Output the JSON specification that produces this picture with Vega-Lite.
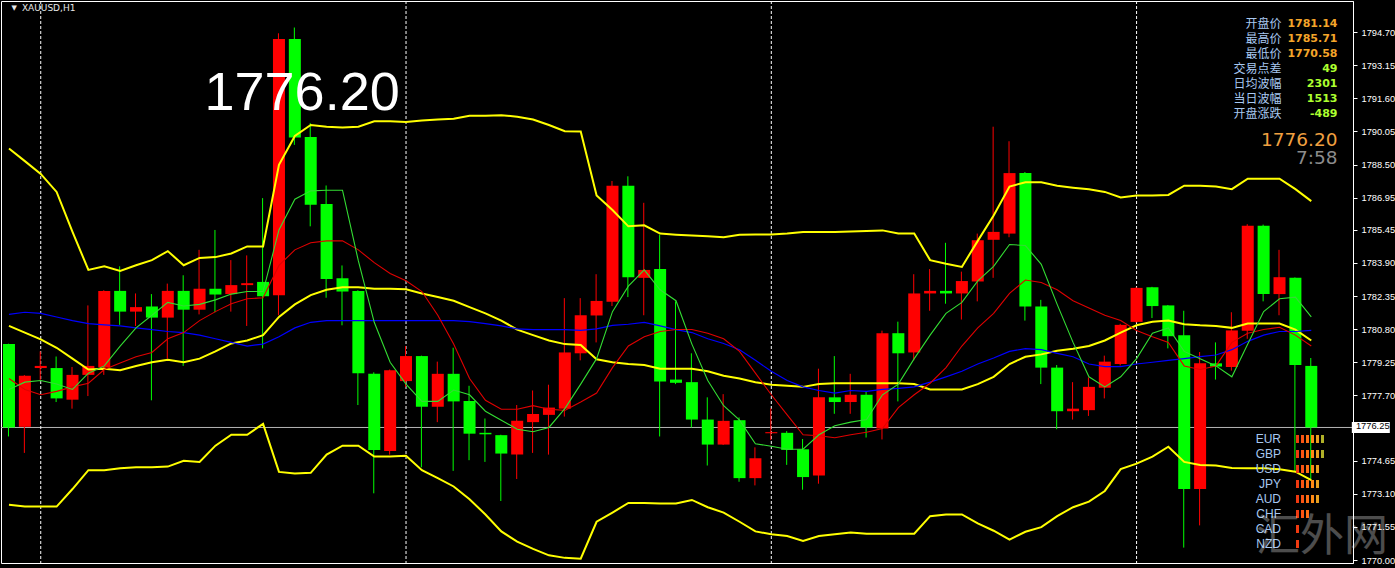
{
  "$schema": "https://vega.github.io/schema/vega-lite/v6.json",
  "width": 1352,
  "height": 562,
  "autosize": {"type": "none"},
  "padding": {"left": 1, "top": 1, "right": 42, "bottom": 5},
  "background": "#000000",
  "config": {
    "view": {"stroke": "#FFFFFF", "strokeWidth": 1},
    "axis": {"labelOverlap": false, "labelFlush": false, "grid": false, "title": null}
  },
  "datasets": {
    "bars": [
      {"k":0,"o":1780.10,"h":1780.12,"l":1775.78,"c":1776.20,"dir":"down","bb_upper":1789.25,"bb_mid":1780.95,"bb_lower":1772.59,"ma_slow":1781.49,"ma_mid":1778.49,"ma_fast":1777.98},
      {"k":1,"o":1776.23,"h":1778.65,"l":1775.01,"c":1778.62,"dir":"up","bb_upper":1788.66,"bb_mid":1780.64,"bb_lower":1772.50,"ma_slow":1781.59,"ma_mid":1777.98,"ma_fast":1778.32},
      {"k":2,"o":1778.98,"h":1779.76,"l":1778.40,"c":1779.08,"dir":"up","bb_upper":1788.06,"bb_mid":1780.32,"bb_lower":1772.50,"ma_slow":1781.54,"ma_mid":1777.73,"ma_fast":1778.40},
      {"k":3,"o":1778.98,"h":1779.52,"l":1777.39,"c":1777.56,"dir":"down","bb_upper":1787.22,"bb_mid":1779.93,"bb_lower":1772.50,"ma_slow":1781.37,"ma_mid":1777.89,"ma_fast":1778.23},
      {"k":4,"o":1777.50,"h":1779.03,"l":1777.08,"c":1778.66,"dir":"up","bb_upper":1785.35,"bb_mid":1779.42,"bb_lower":1773.32,"ma_slow":1781.20,"ma_mid":1778.10,"ma_fast":1777.98},
      {"k":5,"o":1778.66,"h":1781.91,"l":1777.67,"c":1779.08,"dir":"up","bb_upper":1783.57,"bb_mid":1778.91,"bb_lower":1774.20,"ma_slow":1781.06,"ma_mid":1778.27,"ma_fast":1778.74},
      {"k":6,"o":1779.00,"h":1782.62,"l":1778.66,"c":1782.59,"dir":"up","bb_upper":1783.74,"bb_mid":1778.95,"bb_lower":1774.20,"ma_slow":1781.00,"ma_mid":1778.91,"ma_fast":1779.08},
      {"k":7,"o":1782.59,"h":1783.74,"l":1781.00,"c":1781.62,"dir":"down","bb_upper":1783.52,"bb_mid":1778.88,"bb_lower":1774.29,"ma_slow":1780.95,"ma_mid":1779.22,"ma_fast":1780.01},
      {"k":8,"o":1781.62,"h":1782.47,"l":1780.95,"c":1781.83,"dir":"up","bb_upper":1783.79,"bb_mid":1779.08,"bb_lower":1774.34,"ma_slow":1780.86,"ma_mid":1779.51,"ma_fast":1780.86},
      {"k":9,"o":1781.86,"h":1782.44,"l":1777.47,"c":1781.34,"dir":"down","bb_upper":1784.03,"bb_mid":1779.25,"bb_lower":1774.34,"ma_slow":1780.78,"ma_mid":1779.71,"ma_fast":1781.45},
      {"k":10,"o":1781.34,"h":1782.93,"l":1779.42,"c":1782.59,"dir":"up","bb_upper":1784.45,"bb_mid":1779.37,"bb_lower":1774.37,"ma_slow":1780.69,"ma_mid":1780.35,"ma_fast":1782.05},
      {"k":11,"o":1782.59,"h":1783.32,"l":1779.08,"c":1781.71,"dir":"down","bb_upper":1783.79,"bb_mid":1779.25,"bb_lower":1774.64,"ma_slow":1780.64,"ma_mid":1780.64,"ma_fast":1781.88},
      {"k":12,"o":1781.71,"h":1784.51,"l":1781.49,"c":1782.69,"dir":"up","bb_upper":1784.13,"bb_mid":1779.42,"bb_lower":1774.59,"ma_slow":1780.52,"ma_mid":1781.20,"ma_fast":1781.96},
      {"k":13,"o":1782.69,"h":1785.44,"l":1781.59,"c":1782.42,"dir":"down","bb_upper":1784.17,"bb_mid":1779.76,"bb_lower":1775.35,"ma_slow":1780.35,"ma_mid":1781.62,"ma_fast":1782.17},
      {"k":14,"o":1782.44,"h":1784.03,"l":1781.62,"c":1782.86,"dir":"up","bb_upper":1784.34,"bb_mid":1780.13,"bb_lower":1775.86,"ma_slow":1780.18,"ma_mid":1781.99,"ma_fast":1782.44},
      {"k":15,"o":1782.86,"h":1784.25,"l":1780.95,"c":1782.95,"dir":"up","bb_upper":1784.67,"bb_mid":1780.27,"bb_lower":1775.86,"ma_slow":1780.01,"ma_mid":1782.22,"ma_fast":1782.56},
      {"k":16,"o":1783.01,"h":1786.93,"l":1779.90,"c":1782.34,"dir":"down","bb_upper":1784.67,"bb_mid":1780.52,"bb_lower":1776.37,"ma_slow":1780.10,"ma_mid":1782.27,"ma_fast":1782.56},
      {"k":17,"o":1782.39,"h":1794.64,"l":1781.45,"c":1794.37,"dir":"up","bb_upper":1788.49,"bb_mid":1781.37,"bb_lower":1774.12,"ma_slow":1780.44,"ma_mid":1783.78,"ma_fast":1785.44},
      {"k":18,"o":1794.37,"h":1794.91,"l":1789.42,"c":1789.76,"dir":"down","bb_upper":1789.84,"bb_mid":1781.96,"bb_lower":1774.05,"ma_slow":1780.86,"ma_mid":1784.51,"ma_fast":1786.88},
      {"k":19,"o":1789.79,"h":1790.44,"l":1785.61,"c":1786.62,"dir":"down","bb_upper":1790.35,"bb_mid":1782.39,"bb_lower":1774.08,"ma_slow":1781.12,"ma_mid":1784.84,"ma_fast":1787.27},
      {"k":20,"o":1786.66,"h":1787.52,"l":1782.27,"c":1783.15,"dir":"down","bb_upper":1790.27,"bb_mid":1782.64,"bb_lower":1774.93,"ma_slow":1781.20,"ma_mid":1784.93,"ma_fast":1787.30},
      {"k":21,"o":1783.18,"h":1783.78,"l":1780.98,"c":1782.56,"dir":"down","bb_upper":1790.23,"bb_mid":1782.76,"bb_lower":1775.35,"ma_slow":1781.20,"ma_mid":1784.93,"ma_fast":1787.30},
      {"k":22,"o":1782.59,"h":1782.62,"l":1777.25,"c":1778.74,"dir":"down","bb_upper":1790.27,"bb_mid":1782.76,"bb_lower":1775.35,"ma_slow":1781.20,"ma_mid":1784.51,"ma_fast":1783.99},
      {"k":23,"o":1778.71,"h":1778.78,"l":1773.12,"c":1775.15,"dir":"down","bb_upper":1790.52,"bb_mid":1782.69,"bb_lower":1774.84,"ma_slow":1781.20,"ma_mid":1783.91,"ma_fast":1781.12},
      {"k":24,"o":1775.10,"h":1778.91,"l":1774.93,"c":1778.88,"dir":"up","bb_upper":1790.52,"bb_mid":1782.69,"bb_lower":1774.84,"ma_slow":1781.20,"ma_mid":1783.40,"ma_fast":1779.25},
      {"k":25,"o":1778.37,"h":1780.01,"l":1778.10,"c":1779.54,"dir":"up","bb_upper":1790.49,"bb_mid":1782.67,"bb_lower":1774.88,"ma_slow":1781.20,"ma_mid":1783.06,"ma_fast":1778.23},
      {"k":26,"o":1779.54,"h":1779.56,"l":1774.34,"c":1777.17,"dir":"down","bb_upper":1790.56,"bb_mid":1782.47,"bb_lower":1774.20,"ma_slow":1781.20,"ma_mid":1782.56,"ma_fast":1777.42},
      {"k":27,"o":1777.17,"h":1779.28,"l":1776.45,"c":1778.71,"dir":"up","bb_upper":1790.61,"bb_mid":1782.30,"bb_lower":1773.83,"ma_slow":1781.20,"ma_mid":1781.45,"ma_fast":1777.42},
      {"k":28,"o":1778.71,"h":1779.93,"l":1774.17,"c":1777.42,"dir":"down","bb_upper":1790.64,"bb_mid":1782.13,"bb_lower":1773.44,"ma_slow":1781.20,"ma_mid":1780.10,"ma_fast":1777.95},
      {"k":29,"o":1777.44,"h":1778.15,"l":1774.67,"c":1775.91,"dir":"down","bb_upper":1790.78,"bb_mid":1781.83,"bb_lower":1772.84,"ma_slow":1781.15,"ma_mid":1778.49,"ma_fast":1777.73},
      {"k":30,"o":1775.95,"h":1776.62,"l":1774.59,"c":1775.88,"dir":"down","bb_upper":1790.78,"bb_mid":1781.54,"bb_lower":1772.13,"ma_slow":1781.06,"ma_mid":1777.47,"ma_fast":1776.96},
      {"k":31,"o":1775.84,"h":1775.86,"l":1772.76,"c":1774.98,"dir":"down","bb_upper":1790.81,"bb_mid":1781.20,"bb_lower":1771.34,"ma_slow":1780.95,"ma_mid":1777.05,"ma_fast":1776.54},
      {"k":32,"o":1774.93,"h":1777.25,"l":1773.79,"c":1776.51,"dir":"up","bb_upper":1790.74,"bb_mid":1780.78,"bb_lower":1770.86,"ma_slow":1780.81,"ma_mid":1777.05,"ma_fast":1776.12},
      {"k":33,"o":1776.45,"h":1777.93,"l":1775.01,"c":1776.83,"dir":"up","bb_upper":1790.61,"bb_mid":1780.52,"bb_lower":1770.52,"ma_slow":1780.78,"ma_mid":1777.22,"ma_fast":1776.00},
      {"k":34,"o":1776.79,"h":1778.20,"l":1774.93,"c":1777.13,"dir":"up","bb_upper":1790.35,"bb_mid":1780.27,"bb_lower":1770.22,"ma_slow":1780.78,"ma_mid":1777.05,"ma_fast":1776.20},
      {"k":35,"o":1777.08,"h":1782.25,"l":1776.71,"c":1779.71,"dir":"up","bb_upper":1790.06,"bb_mid":1780.10,"bb_lower":1770.10,"ma_slow":1780.78,"ma_mid":1777.00,"ma_fast":1777.08},
      {"k":36,"o":1779.67,"h":1782.25,"l":1779.34,"c":1781.45,"dir":"up","bb_upper":1790.05,"bb_mid":1780.06,"bb_lower":1770.06,"ma_slow":1780.74,"ma_mid":1777.39,"ma_fast":1778.23},
      {"k":37,"o":1781.44,"h":1783.37,"l":1780.18,"c":1782.12,"dir":"up","bb_upper":1787.05,"bb_mid":1779.39,"bb_lower":1771.79,"ma_slow":1780.81,"ma_mid":1777.81,"ma_fast":1779.42},
      {"k":38,"o":1782.08,"h":1787.73,"l":1781.88,"c":1787.51,"dir":"up","bb_upper":1786.37,"bb_mid":1779.25,"bb_lower":1772.22,"ma_slow":1780.98,"ma_mid":1779.00,"ma_fast":1781.62},
      {"k":39,"o":1787.51,"h":1787.95,"l":1782.30,"c":1783.23,"dir":"down","bb_upper":1785.61,"bb_mid":1779.17,"bb_lower":1772.67,"ma_slow":1781.03,"ma_mid":1780.01,"ma_fast":1782.81},
      {"k":40,"o":1783.20,"h":1786.71,"l":1781.45,"c":1783.57,"dir":"up","bb_upper":1785.66,"bb_mid":1779.12,"bb_lower":1772.67,"ma_slow":1781.12,"ma_mid":1780.44,"ma_fast":1783.57},
      {"k":41,"o":1783.61,"h":1785.22,"l":1775.78,"c":1778.35,"dir":"down","bb_upper":1785.27,"bb_mid":1778.95,"bb_lower":1772.64,"ma_slow":1780.95,"ma_mid":1780.69,"ma_fast":1782.64},
      {"k":42,"o":1778.44,"h":1782.10,"l":1778.23,"c":1778.29,"dir":"down","bb_upper":1785.22,"bb_mid":1778.95,"bb_lower":1772.64,"ma_slow":1780.78,"ma_mid":1780.78,"ma_fast":1782.13},
      {"k":43,"o":1778.32,"h":1779.67,"l":1776.20,"c":1776.57,"dir":"down","bb_upper":1785.18,"bb_mid":1778.95,"bb_lower":1772.81,"ma_slow":1780.64,"ma_mid":1780.78,"ma_fast":1780.10},
      {"k":44,"o":1776.57,"h":1777.61,"l":1774.42,"c":1775.40,"dir":"down","bb_upper":1785.15,"bb_mid":1778.83,"bb_lower":1772.47,"ma_slow":1780.35,"ma_mid":1780.61,"ma_fast":1778.40},
      {"k":45,"o":1775.40,"h":1777.76,"l":1775.38,"c":1776.51,"dir":"up","bb_upper":1785.10,"bb_mid":1778.62,"bb_lower":1772.22,"ma_slow":1780.13,"ma_mid":1780.35,"ma_fast":1777.22},
      {"k":46,"o":1776.54,"h":1776.67,"l":1773.66,"c":1773.83,"dir":"down","bb_upper":1785.22,"bb_mid":1778.49,"bb_lower":1771.79,"ma_slow":1779.84,"ma_mid":1779.76,"ma_fast":1776.54},
      {"k":47,"o":1773.83,"h":1775.27,"l":1773.49,"c":1774.76,"dir":"up","bb_upper":1785.23,"bb_mid":1778.32,"bb_lower":1771.34,"ma_slow":1779.34,"ma_mid":1778.74,"ma_fast":1775.44},
      {"k":48,"o":1775.93,"h":1777.10,"l":1775.61,"c":1775.98,"dir":"up","bb_upper":1785.23,"bb_mid":1778.20,"bb_lower":1771.20,"ma_slow":1778.83,"ma_mid":1777.73,"ma_fast":1775.32},
      {"k":49,"o":1775.95,"h":1776.03,"l":1774.45,"c":1775.15,"dir":"down","bb_upper":1785.27,"bb_mid":1778.15,"bb_lower":1771.12,"ma_slow":1778.40,"ma_mid":1776.79,"ma_fast":1775.18},
      {"k":50,"o":1775.18,"h":1775.66,"l":1773.29,"c":1773.88,"dir":"down","bb_upper":1785.35,"bb_mid":1778.10,"bb_lower":1770.89,"ma_slow":1778.10,"ma_mid":1775.86,"ma_fast":1775.18},
      {"k":51,"o":1773.95,"h":1778.95,"l":1773.57,"c":1777.61,"dir":"up","bb_upper":1785.35,"bb_mid":1778.23,"bb_lower":1771.12,"ma_slow":1777.93,"ma_mid":1775.81,"ma_fast":1775.86},
      {"k":52,"o":1777.61,"h":1779.54,"l":1776.84,"c":1777.39,"dir":"down","bb_upper":1785.35,"bb_mid":1778.27,"bb_lower":1771.20,"ma_slow":1777.81,"ma_mid":1775.72,"ma_fast":1776.28},
      {"k":53,"o":1777.39,"h":1778.71,"l":1776.84,"c":1777.73,"dir":"up","bb_upper":1785.37,"bb_mid":1778.27,"bb_lower":1771.29,"ma_slow":1777.93,"ma_mid":1775.86,"ma_fast":1776.45},
      {"k":54,"o":1777.73,"h":1777.90,"l":1775.73,"c":1776.20,"dir":"down","bb_upper":1785.39,"bb_mid":1778.27,"bb_lower":1771.23,"ma_slow":1777.89,"ma_mid":1775.98,"ma_fast":1776.57},
      {"k":55,"o":1776.15,"h":1780.73,"l":1775.64,"c":1780.61,"dir":"up","bb_upper":1785.42,"bb_mid":1778.27,"bb_lower":1771.23,"ma_slow":1777.98,"ma_mid":1776.15,"ma_fast":1777.73},
      {"k":56,"o":1780.61,"h":1781.15,"l":1777.42,"c":1779.67,"dir":"down","bb_upper":1785.27,"bb_mid":1778.27,"bb_lower":1771.23,"ma_slow":1778.03,"ma_mid":1777.13,"ma_fast":1778.23},
      {"k":57,"o":1779.71,"h":1783.37,"l":1779.34,"c":1782.47,"dir":"up","bb_upper":1785.27,"bb_mid":1778.23,"bb_lower":1771.23,"ma_slow":1778.10,"ma_mid":1777.73,"ma_fast":1779.42},
      {"k":58,"o":1782.47,"h":1783.61,"l":1781.66,"c":1782.59,"dir":"up","bb_upper":1784.03,"bb_mid":1777.98,"bb_lower":1772.05,"ma_slow":1778.32,"ma_mid":1778.27,"ma_fast":1780.52},
      {"k":59,"o":1782.59,"h":1784.84,"l":1781.99,"c":1782.47,"dir":"down","bb_upper":1783.86,"bb_mid":1777.98,"bb_lower":1772.13,"ma_slow":1778.57,"ma_mid":1779.00,"ma_fast":1781.54},
      {"k":60,"o":1782.47,"h":1783.49,"l":1781.25,"c":1783.05,"dir":"up","bb_upper":1783.71,"bb_mid":1777.98,"bb_lower":1772.13,"ma_slow":1778.83,"ma_mid":1780.01,"ma_fast":1782.05},
      {"k":61,"o":1783.03,"h":1785.27,"l":1782.10,"c":1784.96,"dir":"up","bb_upper":1784.93,"bb_mid":1778.23,"bb_lower":1771.71,"ma_slow":1779.17,"ma_mid":1780.86,"ma_fast":1783.06},
      {"k":62,"o":1784.98,"h":1790.27,"l":1783.20,"c":1785.35,"dir":"up","bb_upper":1786.12,"bb_mid":1778.57,"bb_lower":1771.37,"ma_slow":1779.45,"ma_mid":1781.54,"ma_fast":1783.74},
      {"k":63,"o":1785.27,"h":1789.59,"l":1785.10,"c":1788.10,"dir":"up","bb_upper":1787.47,"bb_mid":1779.17,"bb_lower":1770.95,"ma_slow":1779.76,"ma_mid":1782.47,"ma_fast":1784.76},
      {"k":64,"o":1788.10,"h":1788.15,"l":1781.20,"c":1781.86,"dir":"down","bb_upper":1787.67,"bb_mid":1779.51,"bb_lower":1771.32,"ma_slow":1779.89,"ma_mid":1783.10,"ma_fast":1784.71},
      {"k":65,"o":1781.86,"h":1782.17,"l":1778.23,"c":1779.00,"dir":"down","bb_upper":1787.67,"bb_mid":1779.62,"bb_lower":1771.54,"ma_slow":1779.84,"ma_mid":1782.98,"ma_fast":1783.83},
      {"k":66,"o":1779.00,"h":1779.12,"l":1776.12,"c":1776.96,"dir":"down","bb_upper":1787.51,"bb_mid":1779.79,"bb_lower":1772.05,"ma_slow":1779.67,"ma_mid":1782.64,"ma_fast":1781.96},
      {"k":67,"o":1776.96,"h":1778.32,"l":1776.57,"c":1777.08,"dir":"up","bb_upper":1787.42,"bb_mid":1779.88,"bb_lower":1772.47,"ma_slow":1779.51,"ma_mid":1782.13,"ma_fast":1780.18},
      {"k":68,"o":1777.01,"h":1778.54,"l":1776.74,"c":1778.10,"dir":"up","bb_upper":1787.34,"bb_mid":1780.01,"bb_lower":1772.73,"ma_slow":1779.17,"ma_mid":1781.79,"ma_fast":1778.57},
      {"k":69,"o":1778.06,"h":1779.56,"l":1777.56,"c":1779.28,"dir":"up","bb_upper":1787.22,"bb_mid":1780.27,"bb_lower":1773.23,"ma_slow":1779.05,"ma_mid":1781.45,"ma_fast":1778.10},
      {"k":70,"o":1779.17,"h":1781.05,"l":1779.10,"c":1781.00,"dir":"up","bb_upper":1786.96,"bb_mid":1780.64,"bb_lower":1774.25,"ma_slow":1779.05,"ma_mid":1781.20,"ma_fast":1778.57},
      {"k":71,"o":1781.14,"h":1782.76,"l":1781.10,"c":1782.73,"dir":"up","bb_upper":1787.05,"bb_mid":1780.98,"bb_lower":1774.51,"ma_slow":1779.17,"ma_mid":1780.74,"ma_fast":1779.42},
      {"k":72,"o":1782.76,"h":1782.78,"l":1781.32,"c":1781.88,"dir":"down","bb_upper":1787.05,"bb_mid":1781.15,"bb_lower":1774.84,"ma_slow":1779.25,"ma_mid":1780.44,"ma_fast":1780.61},
      {"k":73,"o":1781.91,"h":1781.93,"l":1779.90,"c":1780.47,"dir":"down","bb_upper":1787.08,"bb_mid":1781.20,"bb_lower":1775.30,"ma_slow":1779.34,"ma_mid":1780.18,"ma_fast":1780.86},
      {"k":74,"o":1780.52,"h":1781.66,"l":1770.58,"c":1773.32,"dir":"down","bb_upper":1787.51,"bb_mid":1781.03,"bb_lower":1774.59,"ma_slow":1779.42,"ma_mid":1779.08,"ma_fast":1779.76},
      {"k":75,"o":1773.32,"h":1779.73,"l":1771.62,"c":1779.20,"dir":"up","bb_upper":1787.51,"bb_mid":1780.98,"bb_lower":1774.45,"ma_slow":1779.51,"ma_mid":1778.91,"ma_fast":1779.42},
      {"k":76,"o":1779.20,"h":1780.18,"l":1778.44,"c":1779.05,"dir":"down","bb_upper":1787.47,"bb_mid":1780.95,"bb_lower":1774.42,"ma_slow":1779.59,"ma_mid":1779.08,"ma_fast":1779.08},
      {"k":77,"o":1779.03,"h":1781.59,"l":1778.86,"c":1780.74,"dir":"up","bb_upper":1787.35,"bb_mid":1780.86,"bb_lower":1774.30,"ma_slow":1779.84,"ma_mid":1780.18,"ma_fast":1778.57},
      {"k":78,"o":1780.73,"h":1785.71,"l":1780.35,"c":1785.64,"dir":"up","bb_upper":1787.84,"bb_mid":1781.06,"bb_lower":1774.29,"ma_slow":1780.23,"ma_mid":1780.61,"ma_fast":1780.10},
      {"k":79,"o":1785.64,"h":1785.69,"l":1782.10,"c":1782.44,"dir":"down","bb_upper":1787.84,"bb_mid":1781.06,"bb_lower":1774.29,"ma_slow":1780.52,"ma_mid":1780.78,"ma_fast":1781.62},
      {"k":80,"o":1782.44,"h":1784.51,"l":1781.45,"c":1783.23,"dir":"up","bb_upper":1787.84,"bb_mid":1781.06,"bb_lower":1774.25,"ma_slow":1780.69,"ma_mid":1780.89,"ma_fast":1782.22},
      {"k":81,"o":1783.20,"h":1783.22,"l":1774.13,"c":1779.12,"dir":"down","bb_upper":1787.35,"bb_mid":1780.78,"bb_lower":1774.13,"ma_slow":1780.69,"ma_mid":1780.52,"ma_fast":1782.30},
      {"k":82,"o":1779.08,"h":1779.45,"l":1773.74,"c":1776.20,"dir":"down","bb_upper":1786.79,"bb_mid":1780.27,"bb_lower":1773.74,"ma_slow":1780.74,"ma_mid":1780.01,"ma_fast":1781.37}
    ],
    "days": [{"k": 2}, {"k": 25}, {"k": 48}, {"k": 71}],
    "quote": [{"symbol": "XAUUSD,H1", "bid": 1776.20, "scale_mark": 1776.25, "timer": "7:58"}],
    "info": [
      {"row": 0, "label": "开盘价", "value": "1781.14", "kind": "price"},
      {"row": 1, "label": "最高价", "value": "1785.71", "kind": "price"},
      {"row": 2, "label": "最低价", "value": "1770.58", "kind": "price"},
      {"row": 3, "label": "交易点差", "value": "49", "kind": "points"},
      {"row": 4, "label": "日均波幅", "value": "2301", "kind": "points"},
      {"row": 5, "label": "当日波幅", "value": "1513", "kind": "points"},
      {"row": 6, "label": "开盘涨跌", "value": "-489", "kind": "points"}
    ],
    "currencies": [
      {"row": 0, "cur": "EUR"}, {"row": 1, "cur": "GBP"}, {"row": 2, "cur": "USD"}, {"row": 3, "cur": "JPY"},
      {"row": 4, "cur": "AUD"}, {"row": 5, "cur": "CHF"}, {"row": 6, "cur": "CAD"}, {"row": 7, "cur": "NZD"}
    ],
    "strength": [
      {"cur": "EUR", "row": 0, "step": 1}, {"cur": "EUR", "row": 0, "step": 2}, {"cur": "EUR", "row": 0, "step": 3},
      {"cur": "EUR", "row": 0, "step": 4}, {"cur": "EUR", "row": 0, "step": 5}, {"cur": "EUR", "row": 0, "step": 6},
      {"cur": "GBP", "row": 1, "step": 1}, {"cur": "GBP", "row": 1, "step": 2}, {"cur": "GBP", "row": 1, "step": 3},
      {"cur": "GBP", "row": 1, "step": 4}, {"cur": "GBP", "row": 1, "step": 5}, {"cur": "GBP", "row": 1, "step": 6},
      {"cur": "USD", "row": 2, "step": 1}, {"cur": "USD", "row": 2, "step": 2}, {"cur": "USD", "row": 2, "step": 3},
      {"cur": "USD", "row": 2, "step": 4}, {"cur": "USD", "row": 2, "step": 5},
      {"cur": "JPY", "row": 3, "step": 1}, {"cur": "JPY", "row": 3, "step": 2}, {"cur": "JPY", "row": 3, "step": 3},
      {"cur": "JPY", "row": 3, "step": 4}, {"cur": "JPY", "row": 3, "step": 5},
      {"cur": "AUD", "row": 4, "step": 1}, {"cur": "AUD", "row": 4, "step": 2}, {"cur": "AUD", "row": 4, "step": 3},
      {"cur": "AUD", "row": 4, "step": 4}, {"cur": "AUD", "row": 4, "step": 5},
      {"cur": "CHF", "row": 5, "step": 1}, {"cur": "CHF", "row": 5, "step": 2}, {"cur": "CHF", "row": 5, "step": 3},
      {"cur": "CAD", "row": 6, "step": 1},
      {"cur": "NZD", "row": 7, "step": 1}
    ]
  },
  "layer": [
    {
      "data": {"name": "quote"},
      "mark": {"type": "rule", "stroke": "#B4B4B4", "strokeWidth": 1},
      "encoding": {
        "y": {
          "field": "bid", "type": "quantitative",
          "scale": {"domain": [1769.86, 1796.151], "nice": false, "zero": false},
          "axis": {
            "orient": "right", "title": null, "grid": false, "labelOverlap": false, "labelFlush": false,
            "values": [1770.00, 1771.55, 1773.10, 1774.65, 1777.70, 1779.25, 1780.80, 1782.35, 1783.90, 1785.45, 1786.95, 1788.50, 1790.05, 1791.60, 1793.15, 1794.70],
            "format": ".2f",
            "labelColor": "#FFFFFF", "labelFont": "Liberation Sans", "labelFontSize": 9.3, "labelPadding": 4,
            "labelBaseline": "middle", "tickColor": "#FFFFFF", "tickSize": 4, "tickWidth": 1,
            "domainColor": "#FFFFFF", "domainWidth": 1
          }
        }
      }
    },
    {
      "layer": [
        {
          "data": {"name": "days"},
          "mark": {"type": "rule", "stroke": "#FFFFFF", "strokeWidth": 1, "strokeDash": [3, 2]},
          "encoding": {
            "x": {"field": "k", "type": "quantitative", "scale": {"domain": [-0.1875, 84.3125], "nice": false, "zero": false}, "axis": null}
          }
        },
        {
          "data": {"name": "bars"},
          "mark": {"type": "rule", "strokeWidth": 1, "xOffset": -0.5, "clip": true},
          "encoding": {
            "x": {"field": "k", "type": "quantitative", "scale": {"domain": [-0.1875, 84.3125], "nice": false, "zero": false}, "axis": null},
            "y": {"field": "l", "type": "quantitative", "scale": {"domain": [1769.86, 1796.151], "nice": false, "zero": false}, "axis": null},
            "y2": {"field": "h"},
            "color": {"field": "dir", "type": "nominal", "scale": {"domain": ["up", "down"], "range": ["#FF0000", "#00FF00"]}, "legend": null}
          }
        },
        {
          "data": {"name": "bars"},
          "mark": {"type": "bar", "width": 12, "clip": true},
          "encoding": {
            "x": {"field": "k", "type": "quantitative", "scale": {"domain": [-0.1875, 84.3125], "nice": false, "zero": false}, "axis": null},
            "y": {"field": "o", "type": "quantitative", "scale": {"domain": [1769.86, 1796.151], "nice": false, "zero": false}, "axis": null},
            "y2": {"field": "c"},
            "color": {"field": "dir", "type": "nominal", "scale": {"domain": ["up", "down"], "range": ["#FF0000", "#00FF00"]}, "legend": null}
          }
        },
        {
          "data": {"name": "bars"},
          "mark": {"type": "line", "stroke": "#FFFF00", "strokeWidth": 2, "clip": true},
          "encoding": {
            "x": {"field": "k", "type": "quantitative", "scale": {"domain": [-0.1875, 84.3125], "nice": false, "zero": false}, "axis": null},
            "y": {"field": "bb_upper", "type": "quantitative", "scale": {"domain": [1769.86, 1796.151], "nice": false, "zero": false}, "axis": null}
          }
        },
        {
          "data": {"name": "bars"},
          "mark": {"type": "line", "stroke": "#FFFF00", "strokeWidth": 2, "clip": true},
          "encoding": {
            "x": {"field": "k", "type": "quantitative", "scale": {"domain": [-0.1875, 84.3125], "nice": false, "zero": false}, "axis": null},
            "y": {"field": "bb_mid", "type": "quantitative", "scale": {"domain": [1769.86, 1796.151], "nice": false, "zero": false}, "axis": null}
          }
        },
        {
          "data": {"name": "bars"},
          "mark": {"type": "line", "stroke": "#FFFF00", "strokeWidth": 2, "clip": true},
          "encoding": {
            "x": {"field": "k", "type": "quantitative", "scale": {"domain": [-0.1875, 84.3125], "nice": false, "zero": false}, "axis": null},
            "y": {"field": "bb_lower", "type": "quantitative", "scale": {"domain": [1769.86, 1796.151], "nice": false, "zero": false}, "axis": null}
          }
        },
        {
          "data": {"name": "bars"},
          "mark": {"type": "line", "stroke": "#0000FF", "strokeWidth": 1.2, "clip": true},
          "encoding": {
            "x": {"field": "k", "type": "quantitative", "scale": {"domain": [-0.1875, 84.3125], "nice": false, "zero": false}, "axis": null},
            "y": {"field": "ma_slow", "type": "quantitative", "scale": {"domain": [1769.86, 1796.151], "nice": false, "zero": false}, "axis": null}
          }
        },
        {
          "data": {"name": "bars"},
          "mark": {"type": "line", "stroke": "#E00000", "strokeWidth": 1.1, "clip": true},
          "encoding": {
            "x": {"field": "k", "type": "quantitative", "scale": {"domain": [-0.1875, 84.3125], "nice": false, "zero": false}, "axis": null},
            "y": {"field": "ma_mid", "type": "quantitative", "scale": {"domain": [1769.86, 1796.151], "nice": false, "zero": false}, "axis": null}
          }
        },
        {
          "data": {"name": "bars"},
          "mark": {"type": "line", "stroke": "#33DD33", "strokeWidth": 1.1, "clip": true},
          "encoding": {
            "x": {"field": "k", "type": "quantitative", "scale": {"domain": [-0.1875, 84.3125], "nice": false, "zero": false}, "axis": null},
            "y": {"field": "ma_fast", "type": "quantitative", "scale": {"domain": [1769.86, 1796.151], "nice": false, "zero": false}, "axis": null}
          }
        },
        {
          "data": {"name": "quote"},
          "mark": {"type": "tick", "orient": "vertical", "thickness": 38, "size": 11, "color": "#FFFFFF", "opacity": 1},
          "encoding": {
            "x": {"datum": 85.75, "type": "quantitative", "scale": {"domain": [-0.1875, 84.3125], "nice": false, "zero": false}, "axis": null},
            "y": {"field": "bid", "type": "quantitative", "scale": {"domain": [1769.86, 1796.151], "nice": false, "zero": false}, "axis": null}
          }
        },
        {
          "data": {"name": "quote"},
          "mark": {"type": "text", "font": "Liberation Sans", "fontSize": 9.3, "color": "#000000", "align": "left", "baseline": "middle"},
          "encoding": {
            "x": {"datum": 84.8125, "type": "quantitative", "scale": {"domain": [-0.1875, 84.3125], "nice": false, "zero": false}, "axis": null},
            "y": {"field": "scale_mark", "type": "quantitative", "scale": {"domain": [1769.86, 1796.151], "nice": false, "zero": false}, "axis": null},
            "text": {"field": "scale_mark", "format": ".2f"}
          }
        },
        {
          "data": {"name": "quote"},
          "mark": {"type": "text", "text": "▼", "font": "DejaVu Sans", "fontSize": 7, "color": "#E6E6E6", "align": "center", "baseline": "middle"},
          "encoding": {
            "x": {"datum": 0.331, "type": "quantitative", "scale": {"domain": [-0.1875, 84.3125], "nice": false, "zero": false}, "axis": null},
            "y": {"datum": 1795.81, "type": "quantitative", "scale": {"domain": [1769.86, 1796.151], "nice": false, "zero": false}, "axis": null}
          }
        },
        {
          "data": {"name": "quote"},
          "mark": {"type": "text", "font": "DejaVu Sans", "fontSize": 9, "color": "#E6E6E6", "align": "left", "baseline": "alphabetic"},
          "encoding": {
            "x": {"datum": 0.8125, "type": "quantitative", "scale": {"domain": [-0.1875, 84.3125], "nice": false, "zero": false}, "axis": null},
            "y": {"datum": 1795.697, "type": "quantitative", "scale": {"domain": [1769.86, 1796.151], "nice": false, "zero": false}, "axis": null},
            "text": {"field": "symbol"}
          }
        },
        {
          "data": {"name": "quote"},
          "mark": {"type": "text", "font": "Liberation Sans", "fontSize": 54, "color": "#FFFFFF", "align": "left", "baseline": "alphabetic"},
          "encoding": {
            "x": {"datum": 12.3125, "type": "quantitative", "scale": {"domain": [-0.1875, 84.3125], "nice": false, "zero": false}, "axis": null},
            "y": {"datum": 1791.029, "type": "quantitative", "scale": {"domain": [1769.86, 1796.151], "nice": false, "zero": false}, "axis": null},
            "text": {"field": "bid", "format": ".2f"}
          }
        }
      ]
    },
    {
      "layer": [
        {
          "data": {"name": "info"},
          "mark": {"type": "text", "font": "Noto Sans CJK SC", "fontSize": 12, "color": "#A8C8F0", "align": "right", "baseline": "middle"},
          "encoding": {
            "x": {"datum": 0, "type": "quantitative", "scale": {"domain": [-22.866, 1.277], "nice": false, "zero": false}, "axis": null},
            "y": {"field": "row", "type": "quantitative", "scale": {"domain": [-1.5333, 35.933], "nice": false, "zero": false, "reverse": true}, "axis": null},
            "text": {"field": "label"}
          }
        },
        {
          "data": {"name": "info"},
          "mark": {"type": "text", "font": "DejaVu Sans", "fontWeight": "bold", "fontSize": 11, "align": "right", "baseline": "middle"},
          "encoding": {
            "x": {"datum": 1, "type": "quantitative", "scale": {"domain": [-22.866, 1.277], "nice": false, "zero": false}, "axis": null},
            "y": {"field": "row", "type": "quantitative", "scale": {"domain": [-1.5333, 35.933], "nice": false, "zero": false, "reverse": true}, "axis": null},
            "text": {"field": "value"},
            "color": {"field": "kind", "type": "nominal", "scale": {"domain": ["price", "points"], "range": ["#F4A52A", "#ADFF2F"]}, "legend": null}
          }
        },
        {
          "data": {"name": "quote"},
          "mark": {"type": "text", "font": "DejaVu Sans", "fontSize": 18.5, "color": "#F0A040", "align": "right", "baseline": "middle"},
          "encoding": {
            "x": {"datum": 1, "type": "quantitative", "scale": {"domain": [-22.866, 1.277], "nice": false, "zero": false}, "axis": null},
            "y": {"datum": 7.733, "type": "quantitative", "scale": {"domain": [-1.5333, 35.933], "nice": false, "zero": false, "reverse": true}, "axis": null},
            "text": {"field": "bid", "format": ".2f"}
          }
        },
        {
          "data": {"name": "quote"},
          "mark": {"type": "text", "font": "DejaVu Sans", "fontSize": 18.5, "color": "#8C8C8C", "align": "right", "baseline": "middle"},
          "encoding": {
            "x": {"datum": 1, "type": "quantitative", "scale": {"domain": [-22.866, 1.277], "nice": false, "zero": false}, "axis": null},
            "y": {"datum": 8.953, "type": "quantitative", "scale": {"domain": [-1.5333, 35.933], "nice": false, "zero": false, "reverse": true}, "axis": null},
            "text": {"field": "timer"}
          }
        }
      ]
    },
    {
      "layer": [
        {
          "data": {"name": "currencies"},
          "mark": {"type": "text", "font": "Liberation Sans", "fontSize": 12, "color": "#A8C8F0", "align": "right", "baseline": "middle"},
          "encoding": {
            "x": {"datum": -2.3, "type": "quantitative", "scale": {"domain": [-258.3, 12.1], "nice": false, "zero": false}, "axis": null},
            "y": {"field": "row", "type": "quantitative", "scale": {"domain": [-29.2, 8.267], "nice": false, "zero": false, "reverse": true}, "axis": null},
            "text": {"field": "cur"}
          }
        },
        {
          "data": {"name": "strength"},
          "mark": {"type": "tick", "orient": "vertical", "thickness": 3, "size": 8, "opacity": 1},
          "encoding": {
            "x": {"field": "step", "type": "quantitative", "scale": {"domain": [-258.3, 12.1], "nice": false, "zero": false}, "axis": null},
            "y": {"field": "row", "type": "quantitative", "scale": {"domain": [-29.2, 8.267], "nice": false, "zero": false, "reverse": true}, "axis": null},
            "color": {"field": "step", "type": "ordinal", "scale": {"domain": [1, 2, 3, 4, 5, 6], "range": ["#F03A10", "#FA5412", "#FF6E14", "#FF8A14", "#E8A020", "#B0B028"]}, "legend": null}
          }
        },
        {
          "data": {"name": "quote"},
          "mark": {"type": "text", "text": "汇外网", "font": "Noto Sans CJK SC", "fontSize": 44, "color": "#FFFFFF", "opacity": 0.3, "align": "center", "baseline": "middle"},
          "encoding": {
            "x": {"datum": 5.9, "type": "quantitative", "scale": {"domain": [-258.3, 12.1], "nice": false, "zero": false}, "axis": null},
            "y": {"datum": 6.6, "type": "quantitative", "scale": {"domain": [-29.2, 8.267], "nice": false, "zero": false, "reverse": true}, "axis": null}
          }
        }
      ]
    }
  ],
  "resolve": {"scale": {"x": "independent", "y": "independent", "color": "independent"}}
}
